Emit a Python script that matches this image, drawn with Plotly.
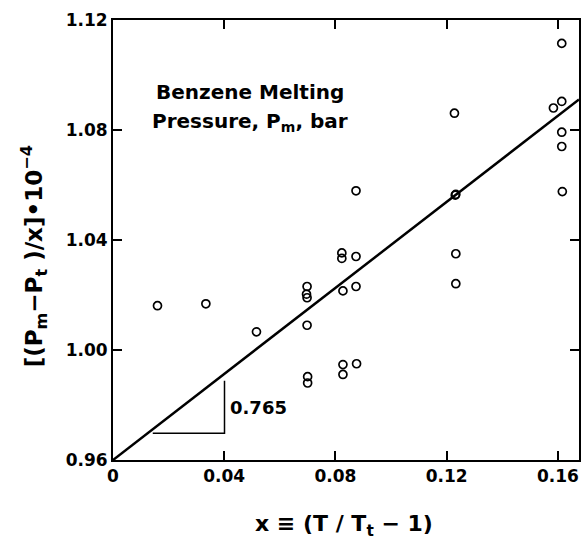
import plotly.graph_objects as go

# Data
x_vals = [0.0160, 0.0334, 0.0516,
          0.0698, 0.0696, 0.0698, 0.0698, 0.0700, 0.0700,
          0.0823, 0.0823, 0.0827, 0.0827, 0.0827,
          0.0874, 0.0874, 0.0874, 0.0876,
          0.1228, 0.1231, 0.1233, 0.1233, 0.1233,
          0.1614, 0.1584, 0.1614, 0.1614, 0.1614, 0.1616]
y_vals = [1.0161, 1.0168, 1.0066,
          1.0231, 1.0203, 1.0190, 1.0090, 0.9903, 0.9880,
          1.0353, 1.0333, 1.0215, 0.9947, 0.9911,
          1.0579, 1.0340, 1.0231, 0.9950,
          1.0861, 1.0563, 1.0566, 1.0350, 1.0241,
          1.1115, 1.0880, 1.0904, 1.0792, 1.0740, 1.0576]

fit_x = [0.0, 0.1676]
fit_y = [0.96, 1.0911]

tri_x = [0.0143, 0.0401, 0.0401]
tri_y = [0.9697, 0.9697, 0.9888]

x_ticks = [0, 0.04, 0.08, 0.12, 0.16]
x_ticktext = ["0", "0.04", "0.08", "0.12", "0.16"]
y_ticks = [0.96, 1.00, 1.04, 1.08, 1.12]
y_ticktext = ["0.96", "1.00", "1.04", "1.08", "1.12"]

FONT = "DejaVu Sans"

fig = go.Figure()
fig.add_trace(go.Scatter(x=fit_x, y=fit_y, mode="lines",
                         line=dict(color="black", width=2.5), showlegend=False))
fig.add_trace(go.Scatter(x=tri_x, y=tri_y, mode="lines",
                         line=dict(color="black", width=1.5), showlegend=False))
fig.add_trace(go.Scatter(x=x_vals, y=y_vals, mode="markers",
                         marker=dict(symbol="circle-open", size=8, color="black",
                                     line=dict(width=1.7, color="black")),
                         showlegend=False))

fig.add_annotation(x=0.0491, y=1.0937, text="Benzene Melting", showarrow=False,
                   font=dict(family=FONT, size=20, color="black", weight="bold"))
fig.add_annotation(x=0.0491, y=1.0829, text="Pressure, P<sub>m</sub>, bar", showarrow=False,
                   font=dict(family=FONT, size=20, color="black", weight="bold"))
fig.add_annotation(x=0.0412, y=0.9791, text="0.765", showarrow=False, xanchor="left",
                   font=dict(family=FONT, size=18, color="black", weight="bold"))

fig.add_annotation(xref="paper", yref="paper", x=-0.171, y=0.4636,
                   xanchor="center", yanchor="middle",
                   text="[(P<sub>m</sub>−P<sub>t</sub> )/x]•10<sup>−4</sup>",
                   textangle=-90, showarrow=False,
                   font=dict(family=FONT, size=23, color="black", weight="bold"))
fig.add_annotation(xref="paper", yref="paper", x=0.4957, y=-0.148,
                   xanchor="center", yanchor="middle",
                   text="x ≡ (T / T<sub>t</sub> − 1)", showarrow=False,
                   font=dict(family=FONT, size=22, color="black", weight="bold"))

axis_common = dict(showgrid=False, zeroline=False, showline=True, linecolor="black",
                   linewidth=2, mirror="ticks", ticks="inside", ticklen=9, tickwidth=2,
                   tickcolor="black",
                   tickfont=dict(family=FONT, size=17, color="black", weight="bold"))

fig.update_xaxes(range=[0, 0.1676], tickvals=x_ticks, ticktext=x_ticktext, **axis_common)
fig.update_yaxes(range=[0.96, 1.12], tickvals=y_ticks, ticktext=y_ticktext, **axis_common)

fig.update_layout(width=583, height=544, autosize=False,
                  margin=dict(l=113, r=2, t=20, b=84, pad=0),
                  plot_bgcolor="white", paper_bgcolor="white")

fig.write_html("out.html", config={"displayModeBar": False},
               post_script="document.body.style.margin='0';")
